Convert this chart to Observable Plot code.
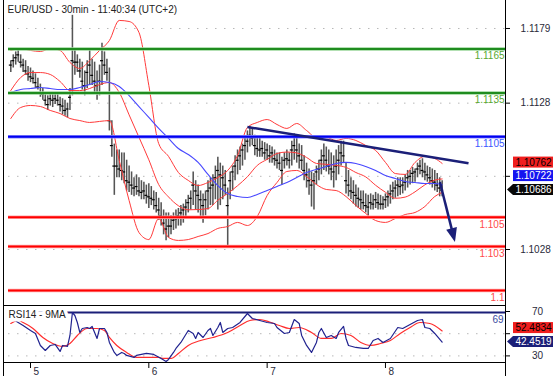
<!DOCTYPE html>
<html><head><meta charset="utf-8">
<script src="https://cdn.jsdelivr.net/npm/d3@7"></script>
<script src="https://cdn.jsdelivr.net/npm/@observablehq/plot@0.6"></script>
<style>
html,body{margin:0;padding:0;background:#fff;}
#chart{position:relative;width:558px;height:376px;overflow:hidden;background:#fff;}
#chart svg{position:absolute;left:0;display:block;}
</style></head><body><div id="chart"></div>
<script>
// ---------- DATA ----------
const title = "EUR/USD - 30min - 11:40:34 (UTC+2)";
const rsiTitle = "RSI14 - 9MA";
const dayIdx = [8, 56, 104, 152];
const dayLabels = ["5", "6", "7", "8"];
const priceTicks = [1.1179, 1.1128, 1.1078, 1.1028];
const priceTickLabels = [1.1179, 1.1128, 1.1028];
const levelValues = [1.1165, 1.1135, 1.1105, 1.105, 1.103, 1.1];
const levelKinds = ["res", "res", "pivot", "sup", "sup", "sup"];

const highs = [1.1157,1.1161,1.1163,1.1164,1.1161,1.1158,1.1157,1.1153,1.1152,1.1150,
1.1148,1.1145,1.1141,1.1138,1.1135,1.1133,1.1135,1.1134,1.1134,1.1135,
1.1132,1.1131,1.1130,1.1128,1.1138,1.1188,1.1164,1.1161,1.1158,1.1156,
1.1150,1.1157,1.1165,1.1158,1.1156,1.1150,1.1154,1.1169,1.1163,1.1158,
1.1152,1.1116,1.1100,1.1096,1.1096,1.1094,1.1094,1.1089,1.1085,1.1081,
1.1077,1.1079,1.1077,1.1075,1.1074,1.1072,1.1073,1.1071,1.1068,1.1067,
1.1063,1.1060,1.1055,1.1053,1.1053,1.1051,1.1053,1.1055,1.1056,1.1058,
1.1059,1.1062,1.1065,1.1068,1.1081,1.1075,1.1072,1.1068,1.1066,1.1068,
1.1075,1.1077,1.1079,1.1085,1.1091,1.1087,1.1085,1.1082,1.1070,1.1081,
1.1085,1.1092,1.1096,1.1098,1.1100,1.1104,1.1109,1.1112,1.1111,1.1106,
1.1105,1.1104,1.1102,1.1101,1.1100,1.1099,1.1098,1.1096,1.1094,1.1094,
1.1091,1.1094,1.1096,1.1094,1.1102,1.1107,1.1104,1.1100,1.1099,1.1092,
1.1087,1.1083,1.1081,1.1080,1.1085,1.1089,1.1096,1.1100,1.1098,1.1096,
1.1094,1.1092,1.1096,1.1099,1.1102,1.1102,1.1087,1.1082,1.1077,1.1075,
1.1072,1.1070,1.1068,1.1068,1.1066,1.1065,1.1066,1.1065,1.1067,1.1066,
1.1065,1.1064,1.1066,1.1068,1.1072,1.1074,1.1075,1.1077,1.1077,1.1077,
1.1079,1.1082,1.1082,1.1084,1.1083,1.1087,1.1089,1.1090,1.1087,1.1085,
1.1084,1.1083,1.1082,1.1080,1.1077,1.1075];

const lows = [1.1149,1.1152,1.1154,1.1156,1.1152,1.1149,1.1147,1.1143,1.1142,1.1141,
1.1138,1.1137,1.1132,1.1130,1.1126,1.1123,1.1126,1.1125,1.1127,1.1126,
1.1122,1.1120,1.1119,1.1118,1.1123,1.1133,1.1147,1.1149,1.1145,1.1137,
1.1133,1.1138,1.1140,1.1140,1.1135,1.1130,1.1133,1.1140,1.1147,1.1143,
1.1109,1.1091,1.1065,1.1077,1.1077,1.1075,1.1073,1.1068,1.1067,1.1065,
1.1064,1.1065,1.1064,1.1062,1.1062,1.1059,1.1056,1.1058,1.1055,1.1053,
1.1048,1.1044,1.1038,1.1034,1.1036,1.1038,1.1041,1.1042,1.1044,1.1044,
1.1046,1.1049,1.1053,1.1055,1.1058,1.1055,1.1053,1.1049,1.1046,1.1051,
1.1055,1.1058,1.1058,1.1062,1.1055,1.1058,1.1062,1.1065,1.1029,1.1062,
1.1068,1.1075,1.1079,1.1082,1.1085,1.1089,1.1094,1.1098,1.1099,1.1092,
1.1091,1.1091,1.1091,1.1089,1.1089,1.1087,1.1087,1.1085,1.1083,1.1082,
1.1072,1.1083,1.1085,1.1083,1.1085,1.1089,1.1087,1.1083,1.1082,1.1075,
1.1070,1.1065,1.1057,1.1055,1.1072,1.1075,1.1079,1.1082,1.1081,1.1079,
1.1075,1.1070,1.1075,1.1079,1.1085,1.1087,1.1066,1.1064,1.1062,1.1059,
1.1057,1.1056,1.1055,1.1055,1.1053,1.1051,1.1055,1.1055,1.1056,1.1055,
1.1055,1.1055,1.1056,1.1057,1.1059,1.1062,1.1063,1.1064,1.1065,1.1066,
1.1068,1.1070,1.1072,1.1073,1.1074,1.1077,1.1079,1.1077,1.1075,1.1074,
1.1072,1.1070,1.1068,1.1067,1.1064,1.1064];

const closes = [1.1154,1.1157,1.1159,1.1161,1.1156,1.1154,1.1150,1.1148,1.1146,1.1145,
1.1142,1.1139,1.1135,1.1134,1.1130,1.1127,1.1131,1.1130,1.1131,1.1130,
1.1127,1.1126,1.1123,1.1124,1.1132,1.1157,1.1156,1.1156,1.1150,1.1143,
1.1140,1.1149,1.1154,1.1147,1.1143,1.1140,1.1143,1.1157,1.1154,1.1149,
1.1116,1.1099,1.1085,1.1085,1.1083,1.1082,1.1081,1.1075,1.1074,1.1072,
1.1070,1.1071,1.1068,1.1067,1.1068,1.1065,1.1064,1.1063,1.1062,1.1058,
1.1055,1.1051,1.1046,1.1042,1.1044,1.1044,1.1048,1.1049,1.1051,1.1053,
1.1055,1.1057,1.1060,1.1063,1.1072,1.1068,1.1065,1.1062,1.1058,1.1062,
1.1068,1.1070,1.1072,1.1077,1.1082,1.1079,1.1077,1.1072,1.1058,1.1075,
1.1081,1.1085,1.1089,1.1092,1.1096,1.1099,1.1102,1.1106,1.1104,1.1099,
1.1097,1.1096,1.1097,1.1094,1.1096,1.1092,1.1094,1.1090,1.1089,1.1087,
1.1082,1.1089,1.1090,1.1089,1.1096,1.1099,1.1096,1.1092,1.1089,1.1082,
1.1079,1.1075,1.1072,1.1075,1.1081,1.1083,1.1089,1.1092,1.1089,1.1085,
1.1083,1.1081,1.1085,1.1089,1.1094,1.1092,1.1075,1.1072,1.1068,1.1067,
1.1065,1.1063,1.1062,1.1060,1.1058,1.1057,1.1060,1.1059,1.1062,1.1060,
1.1059,1.1059,1.1062,1.1064,1.1066,1.1068,1.1070,1.1072,1.1071,1.1072,
1.1074,1.1077,1.1078,1.1080,1.1081,1.1083,1.1085,1.1082,1.1081,1.1079,
1.1077,1.1075,1.1074,1.1072,1.1070,1.10686];

const bandIdx = [0,4,8,12,16,20,24,28,32,36,40,44,48,52,56,60,64,68,72,76,80,84,88,92,96,100,104,108,112,116,120,124,128,132,136,140,144,148,152,156,160,164,168,172,175];
const bbUpper = [1.11640,1.11653,1.11640,1.11633,1.11653,1.11640,1.11558,1.11517,1.11571,1.11640,
1.11708,1.11845,1.11838,1.11763,1.11401,1.11004,1.10916,1.10806,1.10752,1.10717,
1.10738,1.10772,1.10820,1.10922,1.11114,1.11148,1.11168,1.11134,1.11107,1.11141,
1.11093,1.11045,1.11045,1.11025,1.11039,1.11025,1.10991,1.10957,1.10875,1.10799,
1.10793,1.10875,1.10916,1.10902,1.10868];
const bbMiddle = [1.11366,1.11455,1.11489,1.11489,1.11476,1.11428,1.11366,1.11366,1.11380,1.11407,
1.11421,1.11353,1.11200,1.11047,1.10893,1.10724,1.10639,1.10579,1.10551,1.10553,
1.10560,1.10617,1.10663,1.10716,1.10777,1.10855,1.10896,1.10936,1.10946,1.10940,
1.10909,1.10868,1.10862,1.10855,1.10841,1.10806,1.10776,1.10719,1.10671,1.10630,
1.10638,1.10674,1.10722,1.10754,1.10762];
const bbLower = [1.11175,1.11250,1.11264,1.11257,1.11230,1.11209,1.11175,1.11161,1.11148,1.11155,
1.11161,1.10888,1.10615,1.10396,1.10348,1.10492,1.10362,1.10342,1.10348,1.10369,
1.10389,1.10424,1.10437,1.10465,1.10444,1.10506,1.10649,1.10738,1.10813,1.10820,
1.10779,1.10724,1.10690,1.10683,1.10642,1.10581,1.10526,1.10478,1.10465,1.10492,
1.10519,1.10533,1.10574,1.10642,1.10670];
const blueMA = [1.11353,1.11373,1.11380,1.11387,1.11380,1.11373,1.11373,1.11387,1.11407,1.11428,
1.11421,1.11394,1.11332,1.11257,1.11182,1.11107,1.11039,1.10970,1.10929,1.10875,
1.10793,1.10717,1.10663,1.10642,1.10635,1.10656,1.10683,1.10711,1.10738,1.10772,
1.10806,1.10827,1.10847,1.10868,1.10875,1.10868,1.10847,1.10820,1.10786,1.10765,
1.10745,1.10738,1.10731,1.10731,1.10722];

const trendIdx = [96.0, 185.7];
const trendPrice = [1.11117, 1.10870];
const arrowIdx = [174.3, 180.4];
const arrowPrice = [1.10738, 1.10328];

const rsiIdx = [0,1,3,5,8,10,12,14,16,18,20,21,23,24,25,26,27,28,29,31,32,33,34,35,36,38,39,40,42,43,45,46,47,50,51,53,55,58,61,63,64,66,67,69,70,72,74,75,76,78,80,81,82,84,85,86,88,90,93,96,98,101,104,107,108,111,113,115,117,118,120,122,124,125,126,128,130,132,133,135,136,137,140,143,145,147,149,151,154,157,159,162,165,167,168,170,172,175];
const rsiValues = [61.9,62.8,60.1,57.4,52.9,50.2,39.4,34.9,39.4,40.3,
34.0,39.4,38.5,48.4,69.1,66.4,60.1,51.1,54.7,55.6,
54.7,56.5,51.1,45.7,54.7,54.7,51.1,42.1,33.1,30.4,
33.1,32.2,30.4,28.6,30.4,31.3,32.2,31.3,27.7,25.0,
26.8,33.1,36.7,42.1,45.7,52.9,50.2,45.7,51.1,46.6,
52.9,54.7,48.4,55.6,60.1,51.1,54.7,55.6,60.1,68.2,
63.7,61.9,60.1,59.2,55.6,50.2,51.1,62.8,59.2,48.4,
39.4,33.1,42.1,51.1,54.7,46.6,48.4,45.7,51.1,56.5,
45.7,39.4,37.6,36.7,36.7,43.9,45.7,42.1,45.7,55.6,
54.7,58.3,61.9,62.8,55.6,54.7,50.2,42.4519];
const rsiMaIdx = [0,3,5,9,13,17,21,24,27,31,35,38,40,43,47,51,55,60,62,65,68,72,77,82,88,93,97,101,105,109,113,117,122,126,130,134,138,142,146,150,154,158,162,166,170,175];
const rsiMaValues = [59.2,61.9,60.1,54.7,46.6,41.2,38.5,41.2,48.4,54.7,
54.7,52.9,46.6,39.4,33.1,28.6,28.6,28.6,27.7,27.7,
32.2,39.4,43.9,46.6,51.1,57.4,61.9,62.8,60.5,57.4,
54.7,55.6,51.1,45.7,45.7,50.2,48.4,42.1,39.4,41.2,
43.9,50.2,55.6,60.1,59.2,52.4834];
const rsiLevel = 69;
const rsiTicks = [70, 50, 30];
const rsiTickLabels = [70, 30];

// ---------- STYLE ----------
const FONT = "'Liberation Sans', Arial, sans-serif";
const NAVY = "#1b1f78";
const W = 558, ML = 8, MR = 53;
const xDomain = [-0.93, 200.7];
const baseStyle = {fontFamily: FONT, fontSize: "10px", background: "transparent", overflow: "visible"};
const levelColor = {res: ["#9ad69a", "#1f8c1f", "#58a830"], pivot: ["#8a8aff", "#0000f0", "#3a56ff"], sup: ["#ffa8a8", "#ff0000", "#ff4a4a"]};

const bars = d3.range(highs.length).map(i => ({i, high: highs[i], low: lows[i], close: closes[i]}));
const bands = bandIdx.map((i, k) => ({i, upper: bbUpper[k], mid: bbMiddle[k], lower: bbLower[k], ma: blueMA[k]}));
const levels = levelValues.map((v, k) => ({v, kind: levelKinds[k]}));
const rsiData = rsiIdx.map((i, k) => ({i, v: rsiValues[k]}));
const rsiMaData = rsiMaIdx.map((i, k) => ({i, v: rsiMaValues[k]}));
const last = a => a[a.length - 1];

function frameLines(top, bottom) {
  return (index, scales, values, dims) => {
    const g = d3.create("svg:g").attr("stroke", "#000").attr("stroke-width", 1).attr("shape-rendering", "crispEdges");
    const xr = dims.width - dims.marginRight + 0.5;
    g.append("line").attr("x1", 3.5).attr("x2", 3.5).attr("y1", 0).attr("y2", dims.height);
    g.append("line").attr("x1", xr).attr("x2", xr).attr("y1", 0).attr("y2", dims.height);
    if (top) g.append("line").attr("x1", 3.5).attr("x2", xr).attr("y1", 0.5).attr("y2", 0.5);
    if (bottom) {
      const yb = dims.height - dims.marginBottom + 0.5;
      g.append("line").attr("x1", 3.5).attr("x2", xr).attr("y1", yb).attr("y2", yb);
    }
    return g.node();
  };
}

function badgeMark(items) {
  return (index, scales, values, dims) => {
    const g = d3.create("svg:g");
    const x0 = dims.width - dims.marginRight;
    const h = 11, left = x0 + 8, right = x0 + 48;
    for (const b of items) {
      const yc = scales.y(b.anchor) + b.dy;
      if (b.arrow) {
        g.append("path")
          .attr("d", `M${x0 + 2},${yc}L${left},${yc - h / 2}L${right},${yc - h / 2}L${right},${yc + h / 2}L${left},${yc + h / 2}Z`)
          .attr("fill", b.bg);
      } else {
        g.append("rect").attr("x", left).attr("y", yc - h / 2).attr("width", right - left).attr("height", h).attr("fill", b.bg);
      }
      g.append("text").attr("x", (left + right) / 2 + 0.5).attr("y", yc).attr("dy", "0.36em")
        .attr("text-anchor", "middle").attr("fill", b.fg).attr("font-family", FONT).attr("font-size", 10)
        .text(b.label);
    }
    return g.node();
  };
}

function arrowMark(index, scales) {
  const x1 = scales.x(arrowIdx[0]), y1 = scales.y(arrowPrice[0]);
  const x2 = scales.x(arrowIdx[1]), y2 = scales.y(arrowPrice[1]);
  const dx = x2 - x1, dy = y2 - y1, len = Math.hypot(dx, dy), ux = dx / len, uy = dy / len;
  const headL = 14, headW = 5.5;
  const bx = x2 - ux * headL, by = y2 - uy * headL;
  const g = d3.create("svg:g");
  g.append("line").attr("x1", x1).attr("y1", y1).attr("x2", bx + ux * 2).attr("y2", by + uy * 2)
    .attr("stroke", NAVY).attr("stroke-width", 2.5);
  g.append("path").attr("d", `M${x2},${y2}L${bx - uy * headW},${by + ux * headW}L${bx + uy * headW},${by - ux * headW}Z`)
    .attr("fill", NAVY);
  return g.node();
}

const lastClose = last(closes);
const mainBadges = [
  {anchor: lastClose, dy: -27.5, bg: "#f01e1e", fg: "#000", label: d3.format(".5f")(last(bbMiddle))},
  {anchor: lastClose, dy: -14, bg: "#1414f0", fg: "#fff", label: d3.format(".5f")(last(blueMA))},
  {anchor: lastClose, dy: 0, bg: "#080808", fg: "#fff", label: d3.format(".5f")(lastClose), arrow: true}
];
const lastRsi = last(rsiValues);
const rsiBadges = [
  {anchor: lastRsi, dy: -14, bg: "#f01e1e", fg: "#000", label: d3.format(".4f")(last(rsiMaValues))},
  {anchor: lastRsi, dy: 0, bg: NAVY, fg: "#fff", label: d3.format(".4f")(lastRsi), arrow: true}
];

// ---------- MAIN PANEL ----------
const main = Plot.plot({
  width: W, height: 305, marginTop: 0, marginBottom: 0, marginLeft: ML, marginRight: MR,
  x: {domain: xDomain, axis: null},
  y: {domain: [1.098974, 1.119813]},
  style: baseStyle,
  marks: [
    frameLines(false, false),
    Plot.ruleY(priceTicks, {stroke: "#b8b8b8", strokeDasharray: "1.5,7.5"}),
    Plot.axisY(priceTicks, {anchor: "right", tickSize: 4, tickFormat: () => "", stroke: "#000", label: null}),
    Plot.text(priceTickLabels, {y: d => d, text: d => d3.format(".4f")(d), frameAnchor: "right", dx: 30, textAnchor: "middle", fill: "#2a2a3a", fontSize: 10}),
    Plot.ruleX(bars, {x: "i", y1: "low", y2: "high", stroke: "#555555", strokeWidth: 1.55}),
    Plot.ruleY(bars, {y: "close", x1: d => d.i - 0.6, x2: d => d.i + 0.6, stroke: "#000", strokeWidth: 1.2}),
    Plot.line(bands, {x: "i", y: "upper", stroke: "#ff3a3a", strokeWidth: 1, curve: "monotone-x"}),
    Plot.line(bands, {x: "i", y: "mid", stroke: "#ff3a3a", strokeWidth: 1, curve: "monotone-x"}),
    Plot.line(bands, {x: "i", y: "lower", stroke: "#ff3a3a", strokeWidth: 1, curve: "monotone-x"}),
    Plot.line(bands, {x: "i", y: "ma", stroke: "#4848ff", strokeWidth: 1.1, curve: "monotone-x"}),
    Plot.ruleY(levels, {y: "v", stroke: d => levelColor[d.kind][0], strokeWidth: 3.5}),
    Plot.ruleY(levels, {y: "v", stroke: d => levelColor[d.kind][1], strokeWidth: 2}),
    Plot.text(levels, {y: "v", text: d => String(d.v), frameAnchor: "right", textAnchor: "end", dx: -1, dy: 7, fill: d => levelColor[d.kind][2], fontSize: 10}),
    Plot.link([0], {x1: () => trendIdx[0], y1: () => trendPrice[0], x2: () => trendIdx[1], y2: () => trendPrice[1], stroke: NAVY, strokeWidth: 2.5}),
    arrowMark,
    Plot.text([title], {frameAnchor: "top-left", dx: -1, dy: 9, textAnchor: "start", lineAnchor: "middle", fill: "#222", fontSize: 10}),
    badgeMark(mainBadges)
  ]
});
main.style.top = "0px";

// ---------- RSI PANEL ----------
const rsiPlot = Plot.plot({
  width: W, height: 71, marginTop: 0, marginBottom: 14, marginLeft: ML, marginRight: MR,
  x: {domain: xDomain},
  y: {domain: [24.05, 75.41]},
  style: baseStyle,
  marks: [
    frameLines(true, true),
    Plot.ruleY([50, 30], {stroke: "#b8b8b8", strokeDasharray: "1.5,7.5"}),
    Plot.ruleY([rsiLevel], {stroke: NAVY, strokeWidth: 2}),
    Plot.line(rsiMaData, {x: "i", y: "v", stroke: "#ff2d2d", strokeWidth: 1.2, curve: "monotone-x"}),
    Plot.line(rsiData, {x: "i", y: "v", stroke: "#20228f", strokeWidth: 1.2}),
    Plot.text([rsiTitle], {frameAnchor: "top-left", dy: 9, textAnchor: "start", lineAnchor: "middle", fill: "#222", stroke: "#fff", strokeWidth: 7, fontSize: 10}),
    Plot.text([rsiLevel], {y: d => d, text: d => String(d), frameAnchor: "right", textAnchor: "end", dx: -2, dy: 7, fill: "#3a4aa0", fontSize: 10}),
    Plot.axisY(rsiTicks, {anchor: "right", tickSize: 4, tickFormat: () => "", stroke: "#000", label: null}),
    Plot.text(rsiTickLabels, {y: d => d, text: d => String(d), frameAnchor: "right", dx: 32, textAnchor: "middle", fill: "#2a2a3a", fontSize: 10}),
    Plot.axisX(dayIdx, {anchor: "bottom", tickSize: 6, tickFormat: () => "", stroke: "#000", label: null}),
    Plot.text(dayIdx, {x: d => d, text: (d, i) => dayLabels[i], frameAnchor: "bottom", dx: 3, dy: 5, textAnchor: "start", lineAnchor: "top", fill: "#2a2a3a", fontSize: 10}),
    badgeMark(rsiBadges)
  ]
});
rsiPlot.style.top = "305px";

const chart = document.getElementById("chart");
chart.appendChild(main);
chart.appendChild(rsiPlot);
</script>
</body></html>
